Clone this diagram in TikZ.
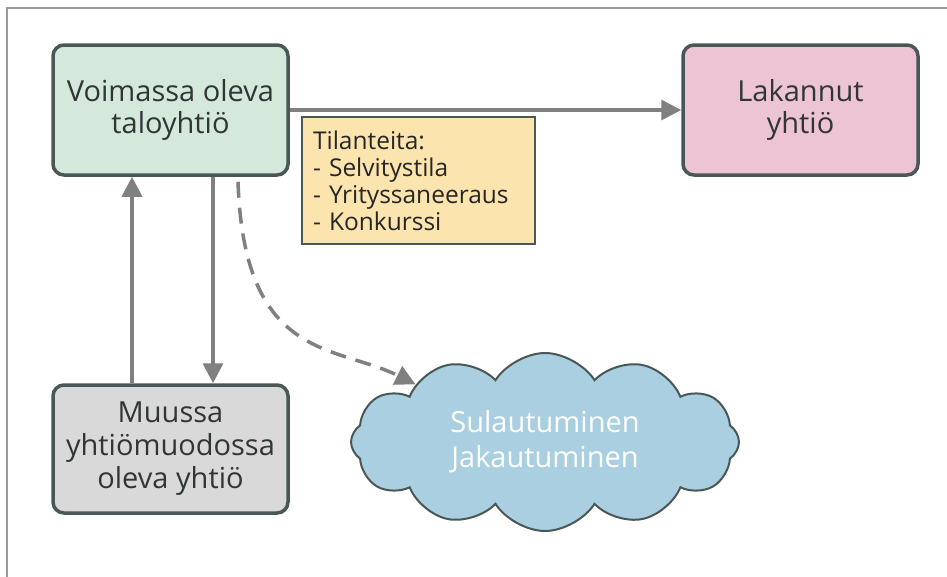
\documentclass[tikz,border=0pt]{standalone}
\usepackage{fontspec}
\setmainfont{Open Sans}
\usetikzlibrary{arrows.meta,shapes.symbols}
\definecolor{framegray}{HTML}{9A9A9A}
\definecolor{boxedge}{HTML}{4A5757}
\definecolor{textgray}{HTML}{303636}
\definecolor{arrgray}{HTML}{808080}
\definecolor{voimfill}{HTML}{D5E8DC}
\definecolor{lakfill}{HTML}{ECC4D3}
\definecolor{tilfill}{HTML}{FCE4AE}
\definecolor{muufill}{HTML}{D9D9D9}
\definecolor{cloudfill}{HTML}{A9CFE1}
\def\BoxW{235}
\def\BoxH{130}

\begin{document}
\begin{tikzpicture}[x=1pt,y=-1pt,
  state/.style={draw=boxedge, line width=3.5pt, rounded corners=11pt,
    minimum width=\BoxW pt, minimum height=\BoxH pt, align=center,
    text=textgray, font=\fontsize{29}{32}\selectfont},
  note/.style={draw=boxedge, line width=1.5pt, fill=tilfill,
    minimum width=233pt, minimum height=127pt, text width=211pt,
    align=left, text=black!85, font=\fontsize{24.5}{27}\selectfont},
  arr/.style={draw=arrgray, line width=3.5pt,
    -{Triangle[length=20pt,width=20pt]}}]
  \useasboundingbox (0,0) rectangle (947,576);
  % frame
  \draw[framegray, line width=1.5pt] (7,580) -- (7,8) -- (950,8);
  % states
  \node[state, fill=voimfill] (voim) at (170.5,110) {Voimassa oleva\\taloyhtiö};
  \node[state, fill=lakfill] (lak) at (800.5,110) {Lakannut\\yhtiö};
  \node[state, fill=muufill, minimum height=128pt,
    font=\fontsize{29}{33}\selectfont] (muu) at (170.5,449)
    {Muussa\\yhtiömuodossa\\oleva yhtiö};
  \node[note] (tila) at (418.5,180.5)
    {Tilanteita:\\- Selvitystila\\- Yrityssaneeraus\\- Konkurssi};
  \node[cloud, cloud puffs=12, cloud puff arc=115, cloud ignores aspect,
    draw=boxedge, line width=2pt, fill=cloudfill, minimum width=388pt,
    minimum height=178pt, text=white, align=center,
    font=\fontsize{29}{35}\selectfont]
    (fuusio) at (545,442) {Sulautuminen\\Jakautuminen};
  % arrows
  \draw[arr] (voim.east) -- (lak.west);
  \draw[arr] ([xshift=-38.5]muu.north) -- ([xshift=-38.5]voim.south);
  \draw[arr] ([xshift=42.5]voim.south) -- ([xshift=42.5]muu.north);
  \draw[arr, dash pattern=on 16pt off 10pt]
    ([xshift=67.5,yshift=-5]voim.south) .. controls +(6,180) and +(-80,-40)
    .. (fuusio.156);
\end{tikzpicture}
\end{document}
